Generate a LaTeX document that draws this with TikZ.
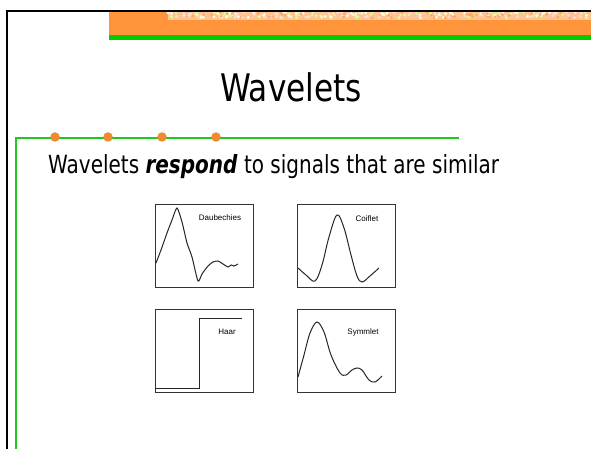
\documentclass[tikz,border=0pt]{standalone}
\usepackage{fontspec}
\usepackage{graphicx}
\setmainfont{DejaVu Sans}
\newfontfamily\lblfont{Liberation Sans}
\definecolor{bandorange}{RGB}{255,148,58}
\definecolor{dotorange}{RGB}{238,138,48}
\definecolor{bandgreen}{RGB}{0,204,0}
\definecolor{linegreen}{RGB}{30,200,30}
\begin{document}
\begin{tikzpicture}[x=1pt,y=-1pt,
  wbox/.style={draw=black!80,line width=1pt,minimum width=98pt,minimum height=83pt,anchor=north west,inner sep=0pt},
  wave/.style={draw=black!85,line width=1pt},
  wlabel/.style={font=\lblfont\fontsize{8}{9}\selectfont,inner sep=0pt},
  dotstyle/.style={circle,fill=dotorange,inner sep=0pt,minimum size=9.5pt}]
\useasboundingbox (0,0) rectangle (591,449);
\fill[white] (0,0) rectangle (591,449);
% top band
\fill[bandorange] (109,12) rectangle (591,35);
\fill[bandorange!55!white] (168,12) rectangle (591,20);
\pgfmathsetseed{7}
\foreach \i in {0,...,260}{
  \pgfmathsetmacro{\xx}{168+rnd*419}
  \pgfmathsetmacro{\yy}{12+rnd*6}
  \pgfmathsetmacro{\rr}{rnd}
  \ifdim\rr pt<0.25pt \def\cc{green!35!yellow!40!white}\else\ifdim\rr pt<0.5pt \def\cc{pink!60!white}\else\ifdim\rr pt<0.75pt \def\cc{bandorange!80!white}\else\def\cc{white!90!yellow}\fi\fi\fi
  \fill[\cc] (\xx,\yy) circle (1.6);
}
\fill[bandgreen] (109,35) rectangle (591,40);
% black frame
\draw[line width=2pt] (591,11) -- (7,11) -- (7,449);
% green rule
\coordinate (gl) at (16,138);
\coordinate (gr) at (459,138);
\coordinate (gb) at (16,449);
\draw[linegreen,line width=1.3pt] (gr) -- (gl) -- (gb);
\node[dotstyle] (d1) at (55,137) {};
\node[dotstyle] (d2) at (108,137) {};
\node[dotstyle] (d3) at (162,137) {};
\node[dotstyle] (d4) at (216,137) {};
% title
\node[inner sep=0pt,anchor=base] (title) at (291,102) {\scalebox{0.82}[1]{\fontsize{38}{40}\selectfont Wavelets}};
\node[inner sep=0pt,anchor=base west] (sub) at (48,174) {\scalebox{0.80}[1]{\fontsize{25}{28}\selectfont Wavelets \textbf{\textit{respond}} to signals that are similar}};
% boxes
\node[wbox] (bD) at (155,204) {};
\node[wbox] (bC) at (297,204) {};
\node[wbox] (bH) at (155,309) {};
\node[wbox] (bS) at (297,309) {};
\node[wlabel] (lD) at (220,218) {Daubechies};
\node[wlabel] (lC) at (367,219) {Coiflet};
\node[wlabel] (lH) at (227,332) {Haar};
\node[wlabel] (lS) at (363,332) {Symmlet};
% Daubechies
\draw[wave] plot[smooth,tension=0.4] coordinates {(156,263) (161,250) (167,233) (172,220) (177,208) (182,222) (187,243) (192,257) (198,281) (202,274) (208,266) (213,262) (218,261) (223,264) (228,267) (231,265) (234,266) (238,264)};
% Coiflet
\draw[wave] plot[smooth,tension=0.6] coordinates {(298,268) (306,275) (315,281) (322,265) (329,237) (337,215) (344,228) (351,255) (357,276) (362,282) (370,276) (379,268)};
% Haar
\draw[wave] (155,388) -- (199,388) -- (199,318) -- (242,318);
% Symmlet
\draw[wave] plot[smooth,tension=0.55] coordinates {(298,377) (304,355) (310,333) (317,322) (324,332) (331,355) (340,373) (346,375) (352,370) (357,368) (362,370) (369,380) (375,382) (382,376)};
\end{tikzpicture}
\end{document}
